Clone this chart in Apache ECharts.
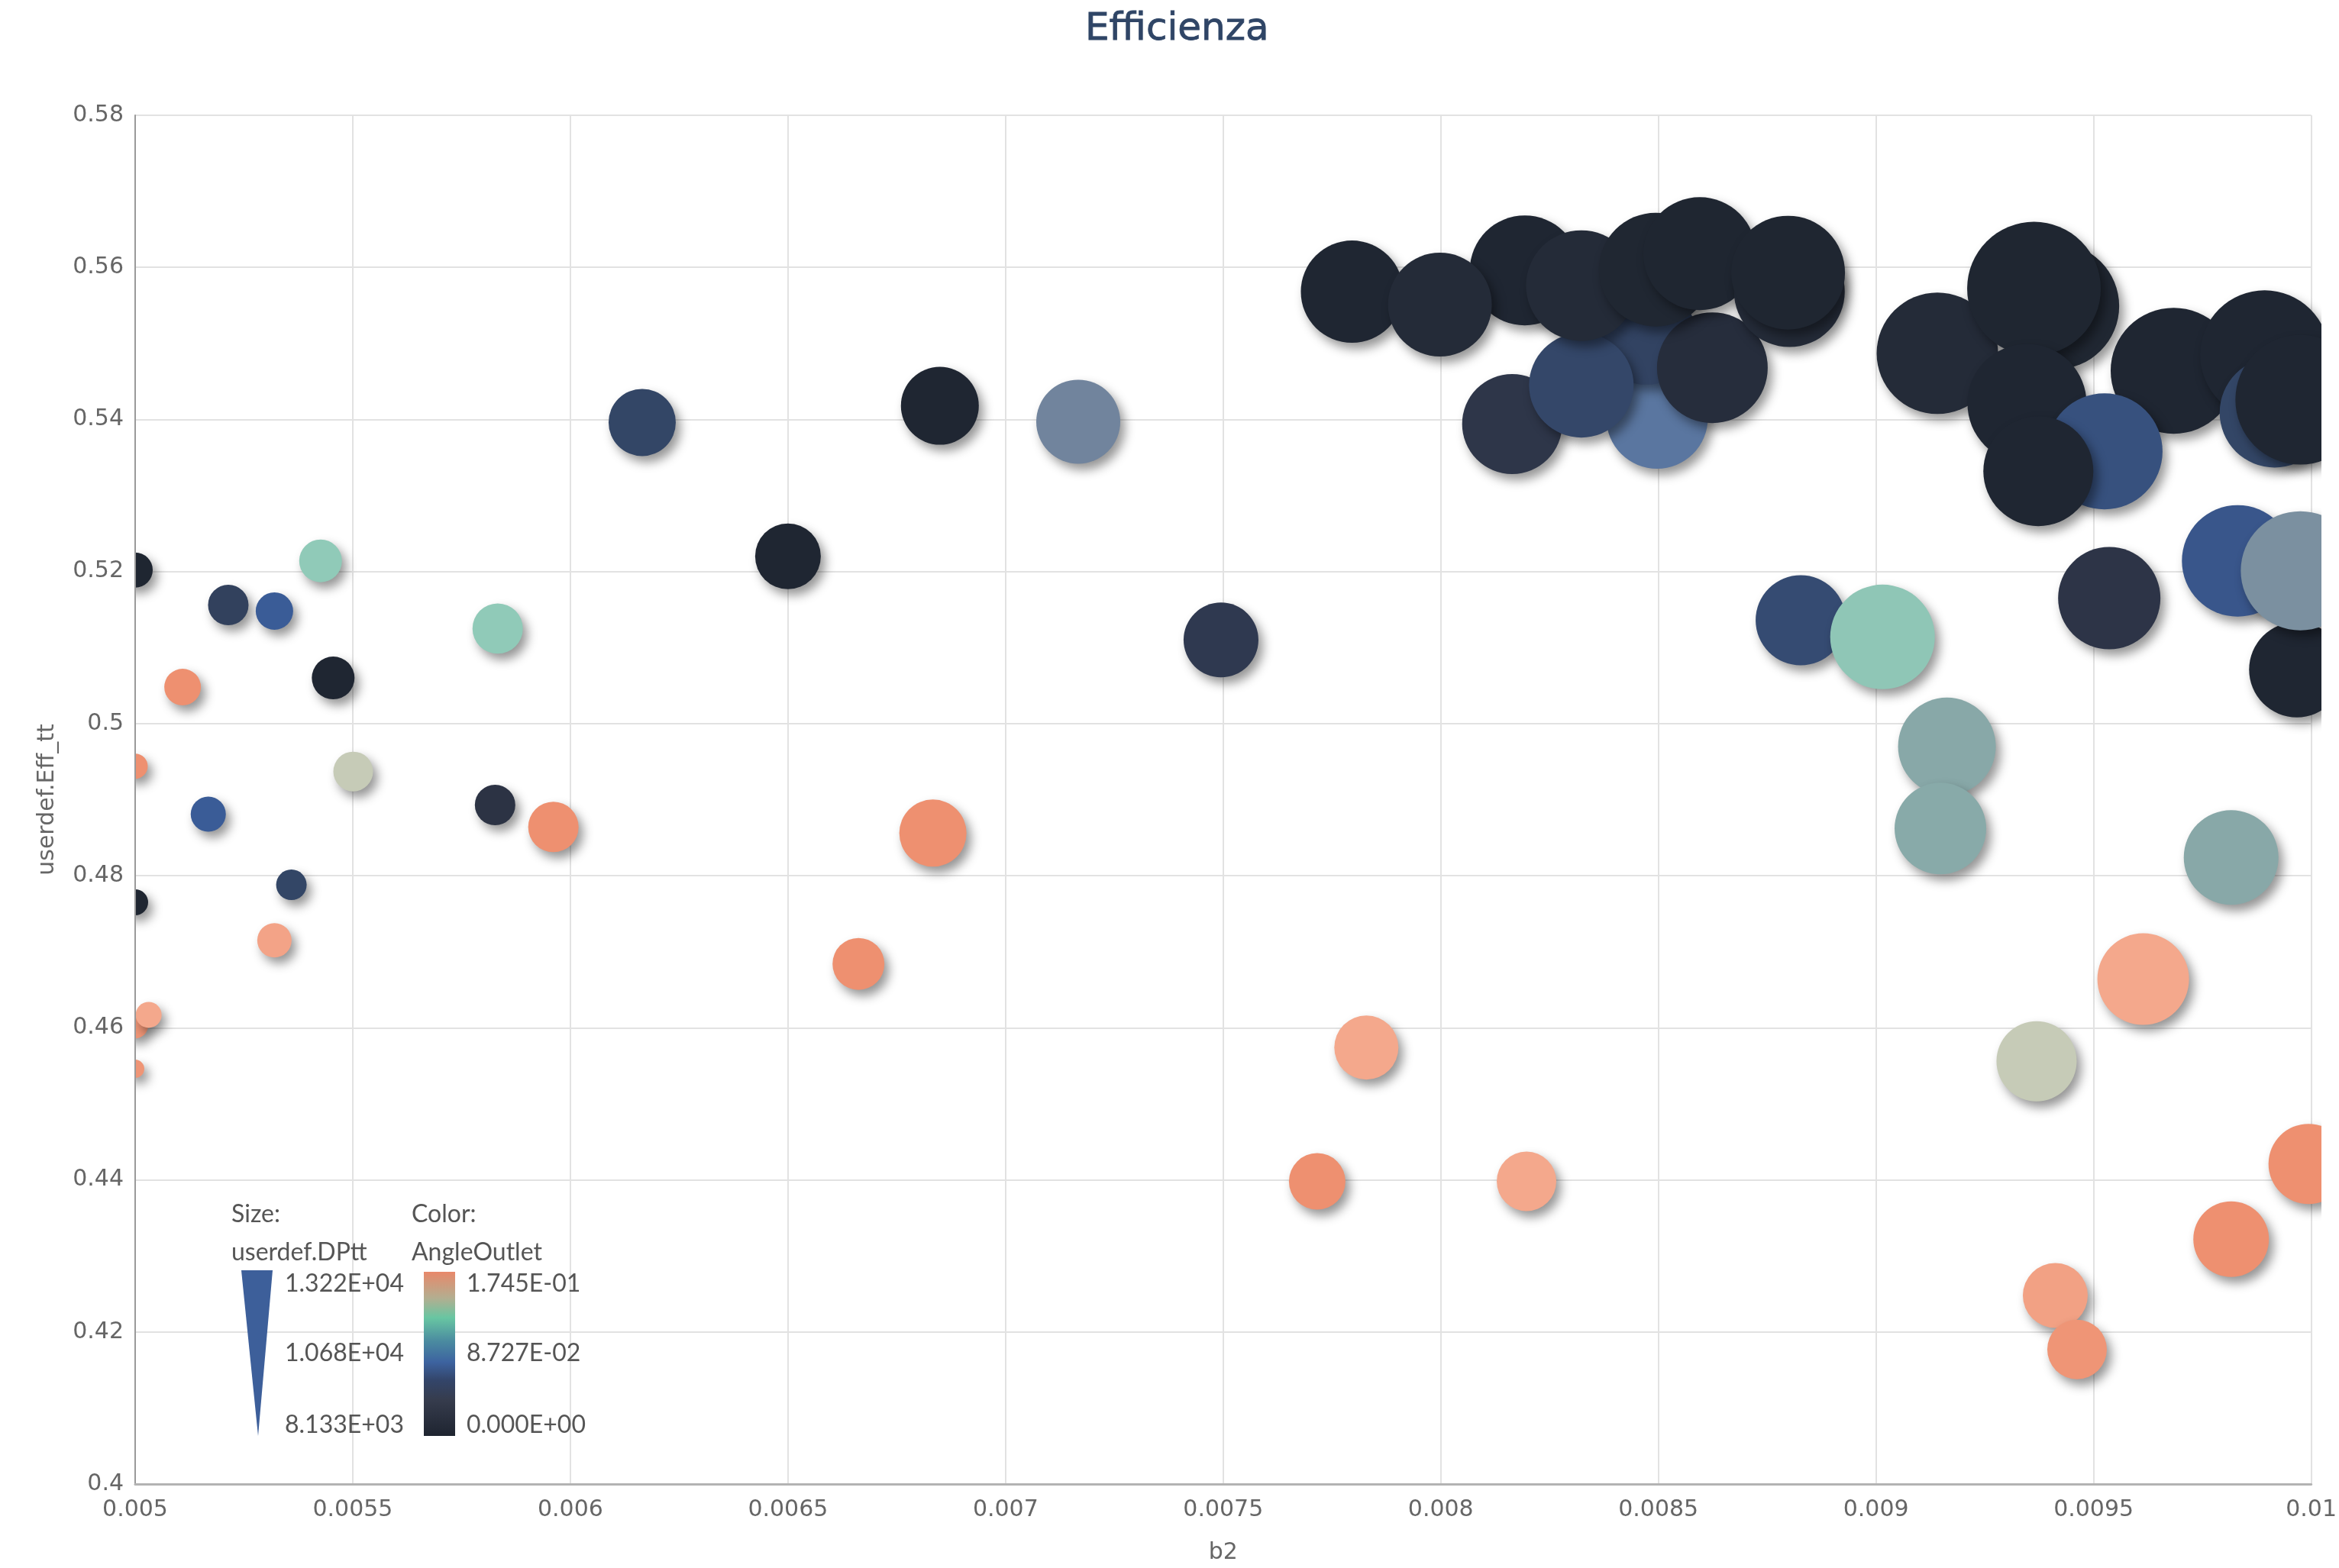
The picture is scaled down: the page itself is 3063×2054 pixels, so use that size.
<!DOCTYPE html>
<html>
<head>
<meta charset="utf-8">
<script src="https://cdn.jsdelivr.net/npm/echarts@6/dist/echarts.min.js"></script>
<style>
  html, body { margin: 0; padding: 0; background: #ffffff; }
  #chart { width: 3063px; height: 2054px; }
</style>
</head>
<body>
<div id="chart"></div>
<script>
// ---- data ----
const b2 = [
  0.00500, 0.005214, 0.00532, 0.005426, 0.005109, 0.005455, 0.00500, 0.005168, 0.005501, 0.005359,
  0.00500, 0.00532, 0.00500, 0.005031, 0.00500, 0.005833, 0.005827, 0.005961, 0.006165, 0.006500,
  0.006849, 0.007167, 0.006833, 0.006662, 0.007495, 0.007829, 0.007716, 0.008197, 0.008164, 0.008497,
  0.008472, 0.008323, 0.008624, 0.007796, 0.008193, 0.008323, 0.008494, 0.008595, 0.007998, 0.008801,
  0.008798, 0.008827, 0.009015, 0.009141, 0.009414, 0.009363, 0.009684, 0.009347, 0.009525, 0.009373,
  0.009893, 0.009916, 0.009975, 0.009536, 0.009831, 0.009967, 0.009975, 0.009163, 0.009148, 0.009816,
  0.009614, 0.009369, 0.009994, 0.009816, 0.009412, 0.009462
];
const effTT = [
  0.5202, 0.5156, 0.5148, 0.5214, 0.5048, 0.5060, 0.4944, 0.4881, 0.4937, 0.4788,
  0.4765, 0.4715, 0.4603, 0.4617, 0.4546, 0.5125, 0.4893, 0.4864, 0.5396, 0.5220,
  0.5418, 0.5397, 0.4856, 0.4684, 0.5110, 0.4574, 0.4398, 0.4398, 0.5394, 0.5402,
  0.5511, 0.5445, 0.5468, 0.5568, 0.5596, 0.5576, 0.5597, 0.5618, 0.5551, 0.5568,
  0.5593, 0.5136, 0.5114, 0.5487, 0.5549, 0.5572, 0.5464, 0.5421, 0.5358, 0.5332,
  0.5485, 0.5409, 0.5426, 0.5165, 0.5214, 0.5071, 0.5201, 0.4970, 0.4862, 0.4824,
  0.4664, 0.4556, 0.4421, 0.4322, 0.4248, 0.4177
];
const dpTT = [
  8828, 9049, 8923, 9144, 8891, 9144, 8417, 8828, 9018, 8639,
  8449, 8797, 8449, 8449, 8133, 9460, 9049, 9460, 10155, 10092,
  10598, 10851, 10155, 9523, 10471, 10029, 9713, 9839, 11514, 11577,
  11482, 11704, 11956, 11609, 11925, 11956, 12083, 12051, 11672, 11956,
  12083, 11103, 11704, 12399, 12589, 12905, 12589, 12304, 12178, 11925,
  12715, 11925, 12747, 11609, 11988, 11325, 12304, 11419, 11167, 11293,
  11167, 10693, 10693, 10503, 10061, 9839
];
const angleOutlet = [
  0.002, 0.042, 0.062, 0.127, 0.170, 0.003, 0.170, 0.062, 0.143, 0.046,
  0.002, 0.162, 0.168, 0.160, 0.168, 0.127, 0.030, 0.170, 0.046, 0.003,
  0.003, 0.093, 0.170, 0.170, 0.036, 0.160, 0.170, 0.160, 0.033, 0.079,
  0.044, 0.047, 0.020, 0.003, 0.003, 0.016, 0.004, 0.002, 0.016, 0.016,
  0.002, 0.050, 0.125, 0.016, 0.004, 0.002, 0.003, 0.003, 0.054, 0.003,
  0.003, 0.046, 0.003, 0.032, 0.058, 0.003, 0.100, 0.111, 0.112, 0.111,
  0.160, 0.143, 0.170, 0.170, 0.163, 0.168
];

const xTicks = { min: 0.005, max: 0.01, step: 0.0005 };
const yTicks = { min: 0.4, max: 0.58, step: 0.02 };
const sizeLegend = ['1.322E+04', '1.068E+04', '8.133E+03'];
const colorLegend = ['1.745E-01', '8.727E-02', '0.000E+00'];
const sizeRange = [8133, 13220];
const colorRange = [0, 0.1745];
const bubbleColors = ['#1e2530','#242b38','#2d3446','#34486a','#3b5e9c','#5b77a0','#75869c','#88a8a8','#90cab8','#c5cbb8','#f5ab90','#eb8664'];

const points = b2.map((x, i) => [x, effTT[i], dpTT[i], angleOutlet[i]]);

const chart = echarts.init(document.getElementById('chart'), null, { renderer: 'canvas' });

const tickFont = 'DejaVu Sans';
const legFont = 'Lato';
const legText = (txt, x, y) => ({
  type: 'text', x: x, y: y, z: 6, silent: true,
  style: { text: txt, fill: '#555555', font: '32px ' + legFont, verticalAlign: 'middle', align: 'left' }
});

const option = {
  backgroundColor: '#ffffff',
  animation: false,
  title: {
    text: 'Efficienza', left: 1416, top: 9,
    textStyle: { fontFamily: 'DejaVu Sans', fontSize: 50, fontWeight: 'normal', color: '#2f4566',
      textBorderColor: '#2f4566', textBorderWidth: 0.8 }
  },
  grid: { left: 177, right: 23, top: 151, bottom: 106, containLabel: false },
  xAxis: [
    {
      type: 'value', min: xTicks.min, max: xTicks.max, interval: xTicks.step, z: 0,
      axisLine: { show: false }, axisTick: { show: false }, axisLabel: { show: false },
      splitLine: { show: true, lineStyle: { color: '#e2e2e2', width: 2 } }
    },
    {
      type: 'value', position: 'bottom', min: xTicks.min, max: xTicks.max, interval: xTicks.step, z: 10,
      axisLine: { show: true, onZero: false, lineStyle: { color: '#b3b3b3', width: 3 } },
      axisTick: { show: false },
      axisLabel: { fontFamily: tickFont, fontSize: 30, color: '#666666', margin: 19 },
      splitLine: { show: false },
      name: 'b2', nameLocation: 'middle', nameGap: 75,
      nameTextStyle: { fontFamily: tickFont, fontSize: 30, color: '#666666' }
    }
  ],
  yAxis: [
    {
      type: 'value', min: yTicks.min, max: yTicks.max, interval: yTicks.step, z: 0,
      axisLine: { show: false }, axisTick: { show: false }, axisLabel: { show: false },
      splitLine: { show: true, lineStyle: { color: '#e2e2e2', width: 2 } }
    },
    {
      type: 'value', position: 'left', min: yTicks.min, max: yTicks.max, interval: yTicks.step, z: 10,
      axisLine: { show: true, onZero: false, lineStyle: { color: '#9a9a9a', width: 2 } },
      axisTick: { show: false },
      axisLabel: { fontFamily: tickFont, fontSize: 30, color: '#666666', margin: 15 },
      splitLine: { show: false },
      name: 'userdef.Eff_tt', nameLocation: 'middle', nameGap: 100,
      nameTextStyle: { fontFamily: tickFont, fontSize: 30, color: '#666666' }
    }
  ],
  visualMap: [
    { type: 'continuous', show: false, seriesIndex: 0, dimension: 2, min: sizeRange[0], max: sizeRange[1],
      inRange: { symbolSize: [24, 185] } },
    { type: 'continuous', show: false, seriesIndex: 0, dimension: 3, min: colorRange[0], max: colorRange[1],
      inRange: { color: bubbleColors } }
  ],
  series: [{
    type: 'scatter', xAxisIndex: 0, yAxisIndex: 0, z: 2, clip: false, silent: true,
    symbol: 'circle',
    data: points,
    itemStyle: { opacity: 1, shadowBlur: 14, shadowOffsetX: 6, shadowOffsetY: 8, shadowColor: 'rgba(0,0,0,0.42)' },
    emphasis: { disabled: true }
  }],
  graphic: [
    // white masks clipping bubbles at the plot edges
    { type: 'rect', z: 5, silent: true, shape: { x: 0, y: 0, width: 176, height: 1946 }, style: { fill: '#ffffff' } },
    { type: 'rect', z: 5, silent: true, shape: { x: 3040, y: 0, width: 30, height: 1946 }, style: { fill: '#ffffff' } },
    // size legend
    legText('Size:', 303, 1591),
    legText('userdef.DPtt', 303, 1641),
    { type: 'polygon', z: 6, silent: true, shape: { points: [[316, 1664], [357, 1664], [338, 1881]] }, style: { fill: '#3d5f9a' } },
    legText(sizeLegend[0], 373, 1682),
    legText(sizeLegend[1], 373, 1773),
    legText(sizeLegend[2], 373, 1867),
    // colour legend
    legText('Color:', 539, 1591),
    legText('AngleOutlet', 539, 1641),
    { type: 'rect', z: 6, silent: true, shape: { x: 555, y: 1666, width: 41, height: 215 },
      style: { fill: { type: 'linear', x: 0, y: 0, x2: 0, y2: 1, colorStops: [
        { offset: 0, color: '#e8886a' }, { offset: 0.16, color: '#b3ae90' }, { offset: 0.28, color: '#68c6a2' },
        { offset: 0.42, color: '#4b8ca0' }, { offset: 0.55, color: '#3d63a0' }, { offset: 0.66, color: '#33456a' },
        { offset: 0.78, color: '#363c4d' }, { offset: 1, color: '#1e2430' } ] } } },
    legText(colorLegend[0], 611, 1682),
    legText(colorLegend[1], 611, 1773),
    legText(colorLegend[2], 611, 1867)
  ]
};
chart.setOption(option);
</script>
</body>
</html>
